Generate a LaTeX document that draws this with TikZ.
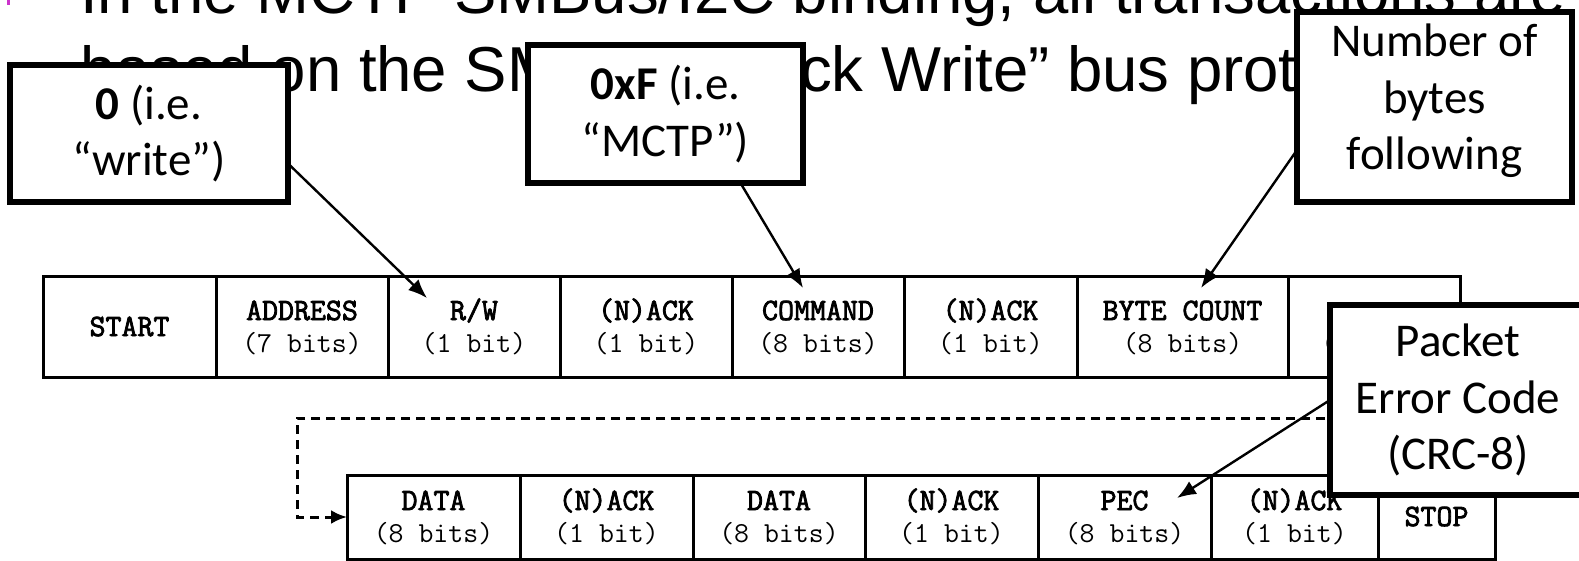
\documentclass[tikz,border=0pt]{standalone}
\usepackage{fontspec}
\usetikzlibrary{arrows.meta}
\newfontfamily\titlefont{Liberation Sans}
\newfontfamily\callfont{Carlito}
\newfontfamily\monoheavy{Latin Modern Mono}[FakeBold=2.6]
\definecolor{bulletpink}{RGB}{204,51,204}

% field label sizes: heavy name on top, plain width underneath
\newcommand\bsz{\fontsize{31pt}{32pt}\selectfont}
\newcommand\rsz{\fontsize{29pt}{32pt}\selectfont}
\newcommand\fld[2]{{\monoheavy\bsz\rule{0pt}{24pt}#1}\\{\ttfamily\rsz #2\rule[-6pt]{0pt}{6pt}}}
\newcommand\solo[1]{{\monoheavy\bsz\rule[-6pt]{0pt}{30pt}#1}}

\begin{document}
\begin{tikzpicture}[x=1pt,y=-1pt,
  cell/.style={draw, line width=3pt, inner sep=0pt, outer sep=0pt,
    anchor=north west, align=center, font=\ttfamily\rsz},
  toprow/.style={cell, minimum height=100pt},
  botrow/.style={cell, minimum height=84pt},
  callout/.style={draw, fill=white, line width=6pt, inner sep=0pt, outer sep=0pt,
    align=center, font=\callfont\fontsize{47pt}{56.5pt}\selectfont},
  pointer/.style={line width=2.4pt, -{Latex[length=19pt,width=15pt]}},
  loopback/.style={line width=3pt, dash pattern=on 9pt off 6pt,
    -{Latex[length=16pt,width=14pt]}},
  heading/.style={anchor=base west, inner sep=0pt,
    font=\titlefont\fontsize{63.5pt}{78pt}\selectfont}]

\clip (0,0) rectangle (1579,561);
\useasboundingbox (0,0) rectangle (1579,561);

% slide bullet and heading text
\fill[bulletpink] (7,0) rectangle (10,5);
\node[heading] (line1) at (80,14) {In the MCTP SMBus/I2C binding, all transactions are};
\node[heading] (line2) at (80,92) {based on the SMBus “Block Write” bus protocol};

% first row of the block write frame
\node[toprow, minimum width=173pt] (start) at (43,277)   {\solo{START}};
\node[toprow, minimum width=172pt] (addr)  at (216,277)  {\fld{ADDRESS}{(7 bits)}};
\node[toprow, minimum width=172pt] (rw)    at (388,277)  {\fld{R/W}{(1 bit)}};
\node[toprow, minimum width=172pt] (ack1)  at (560,277)  {\fld{(N)ACK}{(1 bit)}};
\node[toprow, minimum width=172pt] (cmd)   at (732,277)  {\fld{COMMAND}{(8 bits)}};
\node[toprow, minimum width=173pt] (ack2)  at (904,277)  {\fld{(N)ACK}{(1 bit)}};
\node[toprow, minimum width=211pt] (bcnt)  at (1077,277) {\fld{BYTE COUNT}{(8 bits)}};
\node[toprow, minimum width=172pt] (ack3)  at (1288,277) {\fld{}{(1 bit)}};

% second row
\node[botrow, minimum width=173pt] (data1) at (347,475)  {\fld{DATA}{(8 bits)}};
\node[botrow, minimum width=173pt] (ack4)  at (520,475)  {\fld{(N)ACK}{(1 bit)}};
\node[botrow, minimum width=172pt] (data2) at (693,475)  {\fld{DATA}{(8 bits)}};
\node[botrow, minimum width=173pt] (ack5)  at (865,475)  {\fld{(N)ACK}{(1 bit)}};
\node[botrow, minimum width=173pt] (pec)   at (1038,475) {\fld{PEC}{(8 bits)}};
\node[botrow, minimum width=167pt] (ack6)  at (1211,475) {\fld{(N)ACK}{(1 bit)}};
\node[botrow, minimum width=117pt] (stop)  at (1378,475) {\solo{STOP}};

% wrap-around from the first row to the second
\coordinate (loopx) at (297,418);
\draw[loopback] (ack3.south) |- (loopx) |- (data1.west);

% callouts
\node[callout, minimum width=278pt, minimum height=137pt] (cA) at (149,133.5)
  {\textbf{0} (i.e.\\“write”)};
\node[callout, minimum width=275pt, minimum height=138pt] (cB) at (665.5,114)
  {\textbf{0xF} (i.e.\\“MCTP”)};
\node[callout, minimum width=275pt, minimum height=190pt] (cC) at (1434.5,107)
  {Number of\\bytes\\following\rule[-20pt]{0pt}{0pt}};
\node[callout, minimum width=256pt, minimum height=190pt] (cD) at (1458,400)
  {Packet\\Error Code\\(CRC-8)};

% pointers from callouts to fields
\coordinate (rwtip)   at (427,298);
\coordinate (cmdtip)  at (803,288);
\coordinate (bcnttip) at (1201,288);
\coordinate (pectip)  at (1177,498);
\draw[pointer] ([yshift=-30pt]cA.east) -- (rwtip);
\draw[pointer] ([xshift=75pt]cB.south) -- (cmdtip);
\draw[pointer] ([yshift=-43pt]cC.west) -- (bcnttip);
\draw[pointer] (cD.west) -- (pectip);
\end{tikzpicture}
\end{document}
